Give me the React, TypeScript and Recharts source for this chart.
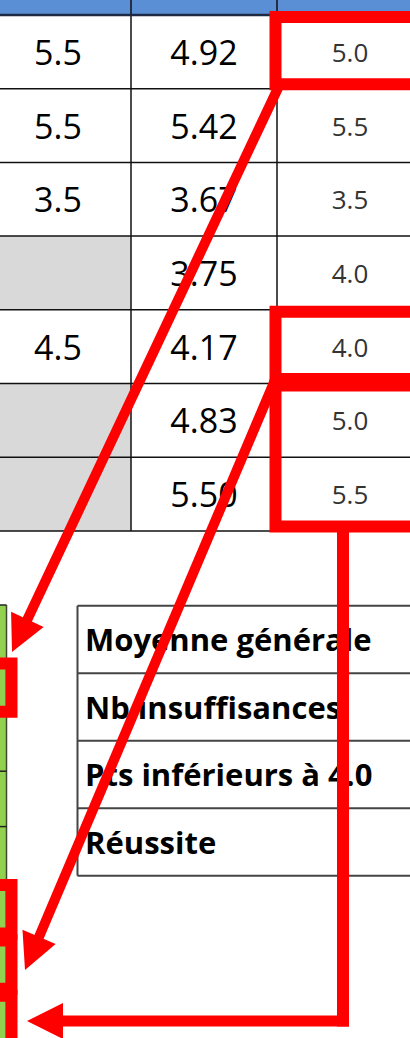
import React from "react";
import {
  ScatterChart,
  Scatter,
  XAxis,
  YAxis,
  ReferenceArea,
  ReferenceLine,
  ReferenceDot,
} from "recharts";

// values
const noteA = [5.5, 5.5, 3.5, null, 4.5, null, null];
const moyenne = [4.92, 5.42, 3.67, 3.75, 4.17, 4.83, 5.5];
const arrondi = [5.0, 5.5, 3.5, 4.0, 4.0, 5.0, 5.5];
const resume = ["Moyenne générale", "Nb insuffisances", "Pts inférieurs à 4.0", "Réussite"];
const greenRows = 8;

// red frames on the rounded column (first row, last row) and on the green strip
const framedRows = [[0, 0], [4, 4], [5, 6]];
const framedGreen = [1, 5, 6, 7];

// sheet layout, in page pixels
const W = 410;
const H = 1038;
const t1 = { top: 15, rowH: 73.7, cols: [-40, 131, 277, 440] };
const t2 = { top: 605.7, rowH: 67.5, left: 77.5 };
const green = { top: 605, rowH: 55.4, right: 6.5 };

const RED = "#FF0000";

const rowTop = (i: number) => t1.top + i * t1.rowH;
const rowMid = (i: number) => t1.top + (i + 0.5) * t1.rowH;

// arrows: straight ones, then the elbow one
const arrows = [
  { from: [278, 88], tip: [12, 652] },
  { from: [275, 380], tip: [25, 970] },
];
const elbow = { x: 343, top: 526, y: 1021, tip: 27 };
const HEAD_L = 36;
const HEAD_W = 18;

const textA = noteA
  .map((v, i) => (v == null ? null : { x: 58, y: rowMid(i), label: v.toFixed(1) }))
  .filter(Boolean);
const textB = moyenne.map((v, i) => ({ x: 204, y: rowMid(i), label: v.toFixed(2) }));
const textC = arrondi.map((v, i) => ({ x: 350, y: rowMid(i), label: v.toFixed(1) }));
const textResume = resume.map((s, i) => ({ x: 85, y: t2.top + (i + 0.5) * t2.rowH, label: s }));

function makeText(size: number, color: string, anchor: string, weight = 400) {
  return (p: any) => (
    <text
      x={p.cx}
      y={p.cy}
      fontSize={size}
      fill={color}
      fontWeight={weight}
      fontFamily="'Open Sans', sans-serif"
      textAnchor={anchor}
      dominantBaseline="central"
    >
      {p.payload.label}
    </text>
  );
}

function makeHead(ux: number, uy: number) {
  return (p: any) => {
    const bx = p.cx - ux * HEAD_L;
    const by = p.cy - uy * HEAD_L;
    const px = -uy * HEAD_W;
    const py = ux * HEAD_W;
    const pts = `${p.cx},${p.cy} ${bx + px},${by + py} ${bx - px},${by - py}`;
    return <polygon points={pts} fill={RED} />;
  };
}

export default function App() {
  const grayRows = noteA.map((v, i) => (v == null ? i : -1)).filter((i) => i >= 0);

  return (
    <div style={{ width: W, height: H, background: "#fff" }}>
      <style>{"body{margin:0}"}</style>
      <ScatterChart width={W} height={H} margin={{ top: 0, right: 0, bottom: 0, left: 0 }}>
        <XAxis type="number" dataKey="x" domain={[0, W]} hide allowDataOverflow />
        <YAxis type="number" dataKey="y" domain={[0, H]} reversed hide allowDataOverflow />

        {/* header band */}
        <ReferenceArea x1={-10} x2={W + 10} y1={-10} y2={t1.top} fill="#5A8FD6" fillOpacity={1} stroke="none" ifOverflow="visible" />
        {/* empty grey cells */}
        {grayRows.map((i) => (
          <ReferenceArea key={"g" + i} x1={-10} x2={t1.cols[1]} y1={rowTop(i)} y2={rowTop(i + 1)} fill="#D9D9D9" fillOpacity={1} stroke="none" ifOverflow="visible" />
        ))}
        {/* green strip */}
        <ReferenceArea x1={-10} x2={green.right} y1={green.top} y2={H + 20} fill="#92D050" fillOpacity={1} stroke="none" ifOverflow="visible" />

        {/* grid of the first table */}
        {[t1.cols[1], t1.cols[2]].map((x) => (
          <ReferenceLine key={"v" + x} segment={[{ x, y: 0 }, { x, y: rowTop(noteA.length) }]} stroke="#111" strokeWidth={1.5} ifOverflow="visible" />
        ))}
        <ReferenceLine segment={[{ x: -10, y: t1.top }, { x: W + 10, y: t1.top }]} stroke="#1E2A44" strokeWidth={2.5} ifOverflow="visible" />
        {noteA.map((_, i) => (
          <ReferenceLine key={"h" + i} segment={[{ x: -10, y: rowTop(i + 1) }, { x: W + 10, y: rowTop(i + 1) }]} stroke="#111" strokeWidth={1.5} ifOverflow="visible" />
        ))}

        {/* green strip lines */}
        <ReferenceLine segment={[{ x: green.right, y: green.top }, { x: green.right, y: H + 20 }]} stroke="#3F4A30" strokeWidth={1.5} ifOverflow="visible" />
        {Array.from({ length: greenRows }, (_, i) => (
          <ReferenceLine key={"gr" + i} segment={[{ x: -10, y: green.top + i * green.rowH }, { x: green.right, y: green.top + i * green.rowH }]} stroke="#222" strokeWidth={1.5} ifOverflow="visible" />
        ))}

        {/* summary table */}
        <ReferenceLine segment={[{ x: t2.left, y: t2.top }, { x: t2.left, y: t2.top + resume.length * t2.rowH }]} stroke="#444" strokeWidth={2} ifOverflow="visible" />
        {Array.from({ length: resume.length + 1 }, (_, i) => (
          <ReferenceLine key={"s" + i} segment={[{ x: t2.left, y: t2.top + i * t2.rowH }, { x: W + 10, y: t2.top + i * t2.rowH }]} stroke="#444" strokeWidth={2} ifOverflow="visible" />
        ))}

        <Scatter data={textA} shape={makeText(34, "#000", "middle")} isAnimationActive={false} />
        <Scatter data={textB} shape={makeText(34, "#000", "middle")} isAnimationActive={false} />
        <Scatter data={textC} shape={makeText(26, "#333", "middle")} isAnimationActive={false} />
        <Scatter data={textResume} shape={makeText(31, "#000", "start", 700)} isAnimationActive={false} />

        {/* red annotations */}
        {framedRows.map(([a, b]) => (
          <ReferenceArea key={"f" + a} x1={275.5} x2={W + 30} y1={rowTop(a) + 2} y2={rowTop(b + 1) - 4.5} fill="none" stroke={RED} strokeWidth={12} ifOverflow="visible" zIndex={3000} />
        ))}
        {framedGreen.map((i) => (
          <ReferenceArea key={"fg" + i} x1={-30} x2={11.5} y1={green.top + i * green.rowH + 3} y2={green.top + (i + 1) * green.rowH - 4} fill="none" stroke={RED} strokeWidth={12} ifOverflow="visible" zIndex={3000} />
        ))}
        {arrows.map((a, k) => {
          const dx = a.tip[0] - a.from[0];
          const dy = a.tip[1] - a.from[1];
          const len = Math.hypot(dx, dy);
          const ux = dx / len;
          const uy = dy / len;
          const end = { x: a.tip[0] - ux * (HEAD_L - 6), y: a.tip[1] - uy * (HEAD_L - 6) };
          return (
            <React.Fragment key={"a" + k}>
              <ReferenceLine segment={[{ x: a.from[0], y: a.from[1] }, end]} stroke={RED} strokeWidth={10} ifOverflow="visible" zIndex={3000} />
              <ReferenceDot x={a.tip[0]} y={a.tip[1]} shape={makeHead(ux, uy)} ifOverflow="visible" zIndex={3000} />
            </React.Fragment>
          );
        })}
        <ReferenceLine segment={[{ x: elbow.x, y: elbow.top }, { x: elbow.x, y: elbow.y + 5.5 }]} stroke={RED} strokeWidth={12} ifOverflow="visible" zIndex={3000} />
        <ReferenceLine segment={[{ x: elbow.x + 6, y: elbow.y }, { x: elbow.tip + HEAD_L - 6, y: elbow.y }]} stroke={RED} strokeWidth={11} ifOverflow="visible" zIndex={3000} />
        <ReferenceDot x={elbow.tip} y={elbow.y} shape={makeHead(-1, 0)} ifOverflow="visible" zIndex={3000} />
      </ScatterChart>
    </div>
  );
}
